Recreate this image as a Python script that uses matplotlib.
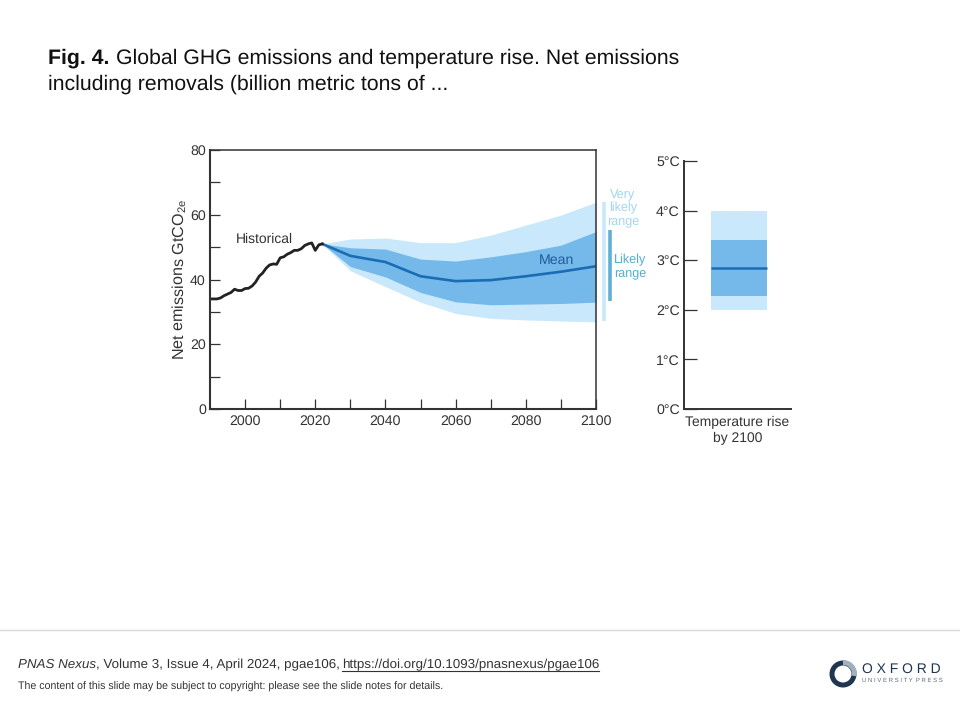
"""Fig. 4 slide: global GHG emissions and temperature rise by 2100."""

import matplotlib
matplotlib.use("Agg")
import matplotlib.pyplot as plt
from matplotlib.patches import Wedge, Circle

plt.rcParams["font.family"] = ["Liberation Sans", "DejaVu Sans"]
plt.rcParams["mathtext.fontset"] = "custom"
plt.rcParams["mathtext.rm"] = "Liberation Sans"
plt.rcParams["text.hinting"] = "none"

W, H = 960, 720

# historical net emissions
hist_years = list(range(1990, 2023))
hist_values = [34, 34, 34, 34.3, 35, 35.5, 36, 37, 36.6, 36.6, 37.2, 37.3, 38,
               39.2, 41, 42, 43.5, 44.5, 44.8, 44.7, 46.7, 47, 47.8, 48.3, 49,
               49, 49.5, 50.5, 51, 51.3, 49, 50.7, 51]

# projections
proj_years = [2022, 2030, 2040, 2050, 2060, 2070, 2080, 2090, 2100]
very_likely_hi = [51, 52.5, 52.8, 51.4, 51.4, 53.7, 56.8, 59.9, 63.9]
likely_hi = [51, 49.8, 49.4, 46.3, 45.7, 47, 48.6, 50.6, 54.8]
mean_values = [51, 47.3, 45.4, 41, 39.5, 39.8, 41, 42.4, 44.1]
likely_lo = [51, 44, 40.8, 36, 33.1, 32.2, 32.4, 32.6, 33]
very_likely_lo = [51, 42.7, 37.8, 33, 29.5, 28, 27.5, 27.2, 26.9]

x_major = [2000, 2020, 2040, 2060, 2080, 2100]
x_minor = [2010, 2030, 2050, 2070, 2090]
y_major = [0, 20, 40, 60, 80]
y_minor = [10, 30, 50, 70]

# temperature panel
temp_ticks = [0, 1, 2, 3, 4, 5]
temp_labels = ["0°C", "1°C", "2°C", "3°C", "4°C", "5°C"]
temp_very_likely = [2.0, 4.0]
temp_likely = [2.28, 3.4]
temp_mean = 2.85

LIGHT = "#c9e8fb"
MID = "#74b9e9"
DARK = "#1a6db5"
INK = "#333333"


def px_axes(left, top, right, bottom):
    return fig.add_axes([left / W, 1 - bottom / H, (right - left) / W, (bottom - top) / H])


def px_text(x, y, s, **kw):
    return fig.text(x / W, 1 - y / H, s, **kw)


fig = plt.figure(figsize=(9.6, 7.2), dpi=100)

# --- main panel ---
ax = px_axes(210, 150, 596, 409)
ax.fill_between(proj_years, very_likely_lo, very_likely_hi, color=LIGHT, lw=0)
ax.fill_between(proj_years, likely_lo, likely_hi, color=MID, lw=0)
ax.plot(proj_years, mean_values, color=DARK, lw=1.9)
ax.plot(hist_years, hist_values, color="#222222", lw=2.0, solid_joinstyle="round")
ax.set_xlim(1990, 2100)
ax.set_ylim(0, 80)
ax.set_xticks(x_major)
ax.set_xticks(x_minor, minor=True)
ax.set_yticks(y_major)
ax.set_yticks(y_minor, minor=True)
ax.tick_params(which="both", direction="in", length=7, width=0.9, color=INK,
               labelsize=10.2, labelcolor=INK, pad=3)
ax.tick_params(axis="x", which="both", pad=4)
for side in ax.spines.values():
    side.set_color(INK)
    side.set_linewidth(1.1)
ax.spines["left"].set_linewidth(1.5)
ax.spines["bottom"].set_linewidth(1.5)
ax.set_ylabel(r"Net emissions GtCO$_{\mathregular{2e}}$", fontsize=11.6, color=INK, labelpad=1)
ax.text(1997.5, 52.4, "Historical", fontsize=10, color=INK, va="center")
ax.text(2088.7, 45.8, "Mean", fontsize=10.2, color="#1f5c9c", ha="center", va="center")

# range bars right of the plot
ax.plot([2102.2, 2102.2], [very_likely_lo[-1] + 0.3, very_likely_hi[-1]], color=LIGHT,
        lw=2.6, clip_on=False, solid_capstyle="butt")
ax.plot([2103.9, 2103.9], [likely_lo[-1] + 0.3, likely_hi[-1] + 0.4], color="#5fb0d6",
        lw=2.6, clip_on=False, solid_capstyle="butt")
ax.text(2107.7, 62.2, "Very\nlikely\nrange", fontsize=9.1, color="#a3d6ee", ha="center",
        va="center", linespacing=1.08)
ax.text(2109.7, 44.1, "Likely\nrange", fontsize=9.1, color="#4fb0cf", ha="center",
        va="center", linespacing=1.08)

# --- temperature panel ---
ax2 = px_axes(684, 161, 791, 409)
ax2.fill_between([0.25, 0.78], temp_very_likely[0], temp_very_likely[1], color=LIGHT, lw=0)
ax2.fill_between([0.25, 0.78], temp_likely[0], temp_likely[1], color=MID, lw=0)
ax2.plot([0.25, 0.78], [temp_mean, temp_mean], color=DARK, lw=1.8, solid_capstyle="butt")
ax2.set_xlim(0, 1)
ax2.set_ylim(0, 5)
ax2.set_xticks([])
ax2.set_yticks(temp_ticks)
ax2.set_yticklabels(temp_labels)
ax2.tick_params(axis="y", direction="in", length=9, width=0.9, color=INK,
                labelsize=10.2, labelcolor=INK, pad=3)
ax2.spines["top"].set_visible(False)
ax2.spines["right"].set_visible(False)
for s in ["left", "bottom"]:
    ax2.spines[s].set_color(INK)
    ax2.spines[s].set_linewidth(1.4)
ax2.set_xlabel("Temperature rise\nby 2100", fontsize=10, color=INK, labelpad=5, linespacing=1.25)

# --- slide text ---
px_text(48, 58.5, "Fig. 4.", fontsize=15.3, fontweight="bold", color="#111111", va="center")
px_text(116, 58.5, "Global GHG emissions and temperature rise. Net emissions",
        fontsize=15.3, color="#111111", va="center")
px_text(48, 84.5, "including removals (billion metric tons of ...", fontsize=15.3,
        color="#111111", va="center")

fig.add_artist(plt.Line2D([0, 1], [1 - 629.5 / H] * 2, color="#d9d9d9", lw=1))
px_text(18, 664.5, "PNAS Nexus", fontsize=9.6, style="italic", color="#333333", va="center")
px_text(95.5, 664.5, ", Volume 3, Issue 4, April 2024, pgae106,", fontsize=9.6,
        color="#333333", va="center")
px_text(342, 664.5, "https://doi.org/10.1093/pnasnexus/pgae106", fontsize=9.6,
        color="#333333", va="center")
fig.add_artist(plt.Line2D([342 / W, 599 / W], [1 - 671 / H] * 2, color="#333333", lw=0.8))
px_text(18, 687, "The content of this slide may be subject to copyright: please see the slide notes for details.",
        fontsize=7.7, color="#333333", va="center")

# --- logo ---
logo = fig.add_axes([0, 0, 1, 1], facecolor="none")
logo.set_xlim(0, W)
logo.set_ylim(H, 0)
logo.axis("off")
logo.add_patch(Circle((843, 674), 13.5, fc="#1f3550", ec="none"))
logo.add_patch(Wedge((843, 674), 14, -90, 10, width=5, fc="#9fb0bf", ec="none"))
logo.add_patch(Circle((843, 674), 8.5, fc="white", ec="none"))
px_text(862, 669.5, "O X F O R D", fontsize=10, color="#1f3550", va="center")
px_text(862, 680.5, "U N I V E R S I T Y  P R E S S", fontsize=4.3, color="#5a6b7d", va="center")

fig.savefig("out.png", dpi=100)
